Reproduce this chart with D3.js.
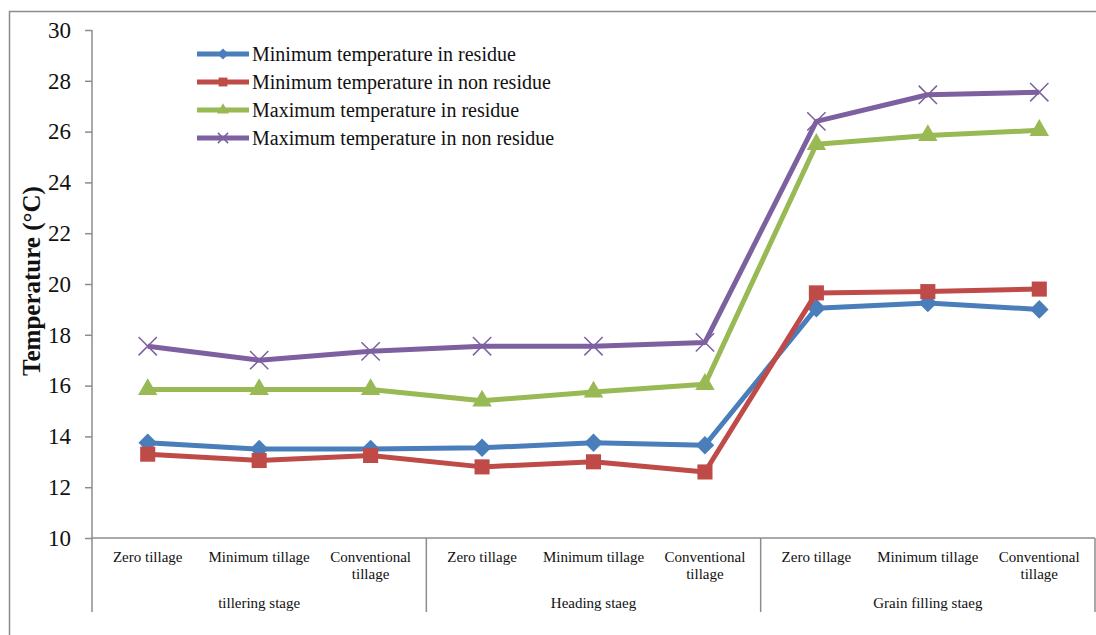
<!DOCTYPE html>
<html>
<head>
<meta charset="utf-8">
<script src="https://cdn.jsdelivr.net/npm/d3@7.9.0/dist/d3.min.js"></script>
<style>
  html, body { margin: 0; padding: 0; background: #fff; }
  svg { display: block; font-family: "Liberation Serif", "Times New Roman", serif; }
</style>
</head>
<body>
<svg width="1096" height="635"></svg>
<script>
// data
const tillage = ['Zero tillage', 'Minimum tillage', 'Conventional tillage'];
const stages = ['tillering stage', 'Heading staeg', 'Grain filling staeg'];

const minResidue = [13.75, 13.5, 13.5, 13.55, 13.75, 13.65, 19.05, 19.25, 19.0];
const minNonResidue = [13.3, 13.05, 13.25, 12.8, 13.0, 12.6, 19.65, 19.7, 19.8];
const maxResidue = [15.85, 15.85, 15.85, 15.4, 15.75, 16.05, 25.5, 25.85, 26.05];
const maxNonResidue = [17.55, 17.0, 17.35, 17.55, 17.55, 17.7, 26.4, 27.45, 27.55];

const yTicks = [10, 12, 14, 16, 18, 20, 22, 24, 26, 28, 30];

const series = [
  { name: 'Minimum temperature in residue', values: minResidue, color: '#4A7EBB', shape: 'diamond' },
  { name: 'Minimum temperature in non residue', values: minNonResidue, color: '#BE4B48', shape: 'square' },
  { name: 'Maximum temperature in residue', values: maxResidue, color: '#98B954', shape: 'triangle' },
  { name: 'Maximum temperature in non residue', values: maxNonResidue, color: '#7D60A0', shape: 'cross' },
];

// categories: every stage has the three tillage types
let cats = [];
stages.forEach((s, si) => tillage.forEach((t, ti) => cats.push({ id: si + '-' + ti, stage: s, tillage: t })));

const svg = d3.select('svg');
const plotLeft = 92, plotRight = 1095, plotTop = 30, plotBottom = 538, axisEnd = 612;

// outer chart border
svg.append('rect')
  .attr('x', 9.5).attr('y', 11.5)
  .attr('width', 1100).attr('height', 640)
  .attr('fill', 'none').attr('stroke', '#8c8c8c').attr('stroke-width', 1.5);

let x = d3.scaleBand().domain(cats.map(d => d.id)).range([plotLeft, plotRight]);
let y = d3.scaleLinear().domain([10, 30]).range([plotBottom, plotTop]);

// y axis
let yAxis = svg.append('g')
  .attr('transform', `translate(${plotLeft},0)`)
  .call(d3.axisLeft(y).tickValues(yTicks).tickSize(7).tickPadding(14));
yAxis.select('.domain').remove();
yAxis.selectAll('line').attr('stroke', '#8c8c8c').attr('stroke-width', 1.5);
yAxis.selectAll('text')
  .attr('font-size', 23).attr('fill', '#111')
  .attr('font-family', '"Liberation Serif", serif');
svg.append('line')
  .attr('x1', plotLeft).attr('x2', plotLeft).attr('y1', plotTop).attr('y2', axisEnd)
  .attr('stroke', '#8c8c8c').attr('stroke-width', 1.5);

// x axis line and group separators
svg.append('line')
  .attr('x1', plotLeft).attr('x2', plotRight).attr('y1', plotBottom).attr('y2', plotBottom)
  .attr('stroke', '#8c8c8c').attr('stroke-width', 1.5);
stages.forEach((s, si) => {
  let xr = x(si + '-2') + x.bandwidth();
  svg.append('line')
    .attr('x1', xr).attr('x2', xr).attr('y1', plotBottom).attr('y2', axisEnd)
    .attr('stroke', '#8c8c8c').attr('stroke-width', 1.5);
  let xc = (x(si + '-0') + xr) / 2;
  svg.append('text')
    .attr('x', xc).attr('y', 608)
    .attr('text-anchor', 'middle').attr('font-size', 15).attr('fill', '#111')
    .text(s);
});

// category labels, "Conventional tillage" wraps onto two lines
cats.forEach(d => {
  let xc = x(d.id) + x.bandwidth() / 2;
  let words = d.tillage === 'Conventional tillage' ? ['Conventional', 'tillage'] : [d.tillage];
  let t = svg.append('text')
    .attr('x', xc).attr('y', 562)
    .attr('text-anchor', 'middle').attr('font-size', 15).attr('fill', '#111');
  words.forEach((w, i) => {
    t.append('tspan').attr('x', xc).attr('dy', i === 0 ? 0 : 17).text(w);
  });
});

// y title
svg.append('text')
  .attr('transform', 'translate(40,281) rotate(-90)')
  .attr('text-anchor', 'middle')
  .attr('font-size', 25).attr('font-weight', 'bold').attr('fill', '#111')
  .text('Temperature (°C)');

// marker helper
function drawMarker(g, shape, color, cx, cy, small) {
  if (shape === 'cross') {
    g.append('path')
      .attr('d', d3.symbol().type(d3.symbolTimes).size(small ? 70 : 220)())
      .attr('transform', `translate(${cx},${cy})`)
      .attr('fill', 'none').attr('stroke', color).attr('stroke-width', 1.5);
    return;
  }
  let type = shape === 'diamond' ? d3.symbolDiamond2 : shape === 'square' ? d3.symbolSquare2 : d3.symbolTriangle2;
  let size = shape === 'diamond' ? 220 : shape === 'square' ? 290 : 270;
  if (small) size = shape === 'diamond' ? 80 : 100;
  g.append('path')
    .attr('d', d3.symbol().type(type).size(size)())
    .attr('transform', `translate(${cx},${cy})`)
    .attr('fill', color);
}

let line = d3.line()
  .x((v, i) => x(cats[i].id) + x.bandwidth() / 2)
  .y(v => y(v));

series.forEach(s => {
  let g = svg.append('g');
  g.append('path')
    .attr('d', line(s.values))
    .attr('fill', 'none').attr('stroke', s.color).attr('stroke-width', 5)
    .attr('stroke-linejoin', 'round');
  s.values.forEach((v, i) => {
    drawMarker(g, s.shape, s.color, x(cats[i].id) + x.bandwidth() / 2, y(v), false);
  });
});

// legend
let legend = svg.append('g');
series.forEach((s, idx) => {
  let ly = 54 + idx * 28;
  legend.append('line')
    .attr('x1', 197).attr('x2', 249).attr('y1', ly).attr('y2', ly)
    .attr('stroke', s.color).attr('stroke-width', 5);
  drawMarker(legend, s.shape, s.color, 223, ly, true);
  legend.append('text')
    .attr('x', 252).attr('y', ly + 7)
    .attr('font-size', 20).attr('fill', '#111')
    .text(s.name);
});
</script>
</body>
</html>
